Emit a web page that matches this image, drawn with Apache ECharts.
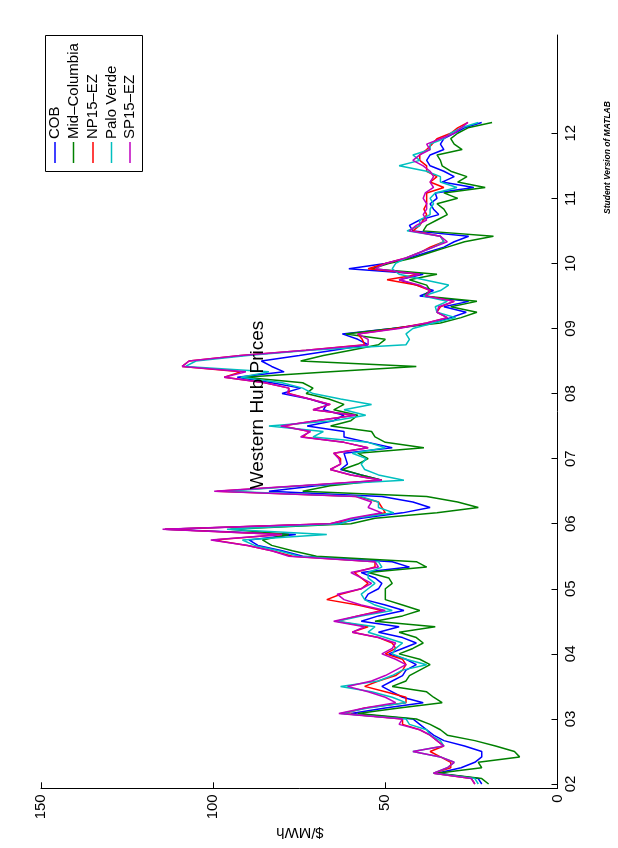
<!DOCTYPE html>
<html><head><meta charset="utf-8">
<script src="https://cdn.jsdelivr.net/npm/echarts@6/dist/echarts.min.js"></script>
<style>html,body{margin:0;padding:0;background:#fff}#c{width:618px;height:848px}</style>
</head><body><div id="c"></div>
<script>
// monthly data Jan 2002 .. Mar 2012
const startYear = 2002, startMonth = 1;
const yearTicks = [2002,2003,2004,2005,2006,2007,2008,2009,2010,2011,2012];
const valueTicks = [0,50,100,150];
const seriesNames = ['COB','Mid\u2013Columbia','NP15\u2013EZ','Palo Verde','SP15\u2013EZ'];
const seriesColors = ['#0000FF','#008000','#FF0000','#00BFBF','#BF00BF'];

const cob = [22,23,35,28,24,22,22,27,33,36,38,40,
 42,60,50,39,45,48,51,48,45,44,41,44,
 49,45,41,45,52,46,57,52,44.6,50,56,55,
 52,51,53,57,43,48,74,80,87,89.6,76,114,
 64,57,45,37,42,51,83.8,70,51,57,63,61,
 61.5,62,48,55,62,62,72.7,65,62,68,67,72,
 80,74.6,83,93,79.4,83,86,75,65,55,58,62.5,
 48,36,31,26.5,33,25.8,40,36,41,46,39,60.6,
 50,43,38,33,30,25.8,42,43,40,34.5,36,37,
 35,35.5,24.3,33.5,30,33,37,38,37,33,34,33,
 30,27,22];
const midc = [20,22,35,22,23,11,12.5,18,24,32,34,37,
 41,58,46,33.5,36,38,48,44,43,40,37,40,
 46,42,39,41,46,35.5,53,45,40,45,50,50,
 50,48,49,55,38,41,70,77,83,85.7,78,95,
 60,53,35,23,29,38,74,66,51,57,62.5,58,
 55,58,38.8,50,53,54,65.9,60,58,65,62,66.4,
 73,71,74,91,66,41,74.6,68,60,52,50,61.5,
 48,34,28,23.4,31,23.4,39,37,38,43,35,54,
 49,42,37,32,27,18.6,39,38,35,32,33,35,
 29,33,21,29,26.3,31,33.5,34,35,27.7,30,31,
 29,26,19];
const np15 = [24,25,36,31,31,34,37,33,35,37,40,45,
 45,62,56,44,44,50,56,52,47,45,44,45,
 50,47,48,52,59.6,55,64,58,51,58,67,63,
 57,55,57,59,53,53,77,83,90,100,80,114,
 66,59,50,51,52,58,99,74,51,60,66,63,
 63,65,55,62,74,72,80,70,59,71,66,72,
 78,78,85,96.8,92,109,107,92,73,56,56.7,58,
 47,38,32,35,34,30,38,37,41,49.5,40,55,
 50,44,40,37,33,34,42,40,39,38,38.8,38,
 38,38,33,37,35,38,38,40,40,38,36.4,35,
 31,29,26];
const palo = [23,24,36,32,30,34,42,33,34,37,38,43,
 44,63,55,44,48,54,63,52,48,45,38,44,
 48,47,45,50,55,53,64,57,48,53,56,57,
 55,53,55,55,51,52,75,81,88,91.5,67,96,
 63,59,47.5,52,52,57,96,74,44.6,52,56,57,
 55.5,59.6,50,55,71,68,83.8,65,55.7,62,54,63,
 71,74,80,92,83.8,108,105,90,72,44,43,44,
 42,36,29.6,35,35.5,32,39,34,31.6,38.8,46,48,
 47,44,40,36,33,34,43.7,40,40,37,37,36,
 37,35.5,29.2,34,34,38,46,40,42,37,37,33,
 31,28,23];
const sp15 = [24,25,36,32,30,34,42,33,35,37,40,46,
 45,63.5,56,47,50,55,61,54,50,47,44,47,
 51,48,47,52,59.6,56,65,58,50,57,62,64,
 57,54,57,60,52,53,78,83,90,100.7,80,114.7,
 66,60,51,55,54,58.6,99.7,75,51,60,66,63,
 63.5,65,55,62,74.6,71.7,80.4,70,58.6,71,66,72,
 78.5,78,85,96.8,90.5,109,107,92,73,55,55,58,
 46,38,32,35,34.5,30,38.4,37,40,46,40,53,
 50,44,40,36,32,34,43,41,38,39,38,38,
 39,38.4,36,37,36,37,39,42,40,37,38,34,
 30,28,26];
const allSeries = [cob, midc, np15, palo, sp15];

const months = cob.map((_, i) => startYear + (startMonth - 1 + i) / 12);

const FONT = 'Liberation Sans, Arial, sans-serif';
const chart = echarts.init(document.getElementById('c'), null, {renderer: 'canvas'});

const legendX = [55, 73.5, 93, 111.5, 130];
const graphics = [
  {type:'rect', shape:{x:45.5, y:35.5, width:97, height:136}, style:{fill:'#fff', stroke:'#000', lineWidth:1}, z:10},
  {type:'text', x:258, y:405, rotation:Math.PI/2, style:{text:'Western Hub Prices', font:'19px '+FONT, fill:'#000', textAlign:'center', textVerticalAlign:'middle'}, z:10},
  {type:'text', x:300, y:832, rotation:Math.PI, style:{text:'$/MWh', font:'15px '+FONT, fill:'#000', textAlign:'center', textVerticalAlign:'middle'}, z:10},
  {type:'text', x:608, y:214, rotation:Math.PI/2, style:{text:'Student Version of MATLAB', font:'italic bold 8.5px '+FONT, fill:'#000', textAlign:'left', textVerticalAlign:'middle'}, z:10}
];
seriesNames.forEach((n, i) => {
  graphics.push({type:'line', shape:{x1:legendX[i], y1:142, x2:legendX[i], y2:163}, style:{stroke:seriesColors[i], lineWidth:1.5}, z:11});
  graphics.push({type:'text', x:legendX[i], y:139, rotation:Math.PI/2, style:{text:n, font:'15px '+FONT, fill:'#000', textAlign:'left', textVerticalAlign:'middle'}, z:11});
});

chart.setOption({
  animation: false,
  backgroundColor: '#fff',
  grid: {left: 41, right: 60.5, top: 35, bottom: 59.7, containLabel: false},
  xAxis: {
    type: 'value', min: 0, max: 150, interval: 50, inverse: true, position: 'bottom',
    axisLine: {show: true, onZero: false, lineStyle: {color: '#000', width: 1}},
    axisTick: {show: true, inside: true, length: 6, lineStyle: {color: '#000'}},
    axisLabel: {rotate: 90, fontSize: 15, fontFamily: FONT, color: '#000', margin: 6},
    splitLine: {show: false}
  },
  yAxis: {
    type: 'value', min: 2001.934, max: 2013.51, position: 'right',
    axisLine: {show: true, onZero: false, lineStyle: {color: '#000', width: 1}},
    axisTick: {show: true, inside: true, length: 6, customValues: yearTicks, lineStyle: {color: '#000'}},
    axisLabel: {rotate: 90, fontSize: 15, fontFamily: FONT, color: '#000', margin: 6, customValues: yearTicks,
      formatter: v => String(Math.round(v) % 100).padStart(2, '0')},
    splitLine: {show: false}
  },
  series: allSeries.map((arr, i) => ({
    name: seriesNames[i], type: 'line', showSymbol: false, symbol: 'none',
    data: arr.map((v, j) => [v, months[j]]),
    lineStyle: {color: seriesColors[i], width: 1.5}, itemStyle: {color: seriesColors[i]}
  })),
  graphic: graphics
});
</script></body></html>
